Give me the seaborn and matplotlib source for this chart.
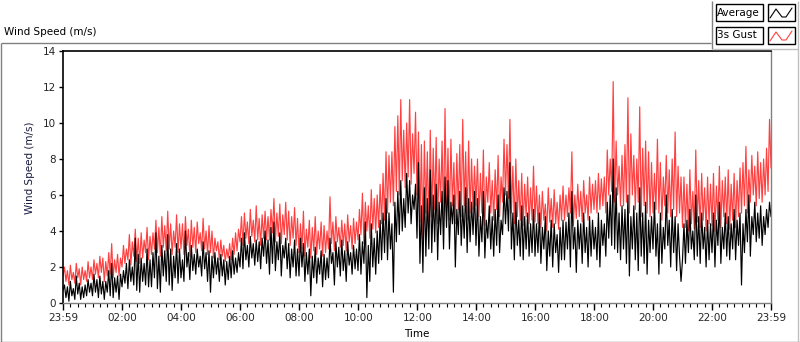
import numpy as np
import pandas as pd
import matplotlib
matplotlib.use("Agg")
import matplotlib.pyplot as plt
from matplotlib.lines import Line2D
from matplotlib.patches import Rectangle
from matplotlib.ticker import FixedLocator, MultipleLocator
import seaborn as sns

# ---- data (3-minute samples, minutes since 23:59), one row per hour ----
gust = [
    1.5, 2.0, 1.2, 1.8, 1.0, 2.1, 1.3, 1.7, 1.1, 2.2, 1.4, 1.9, 1.0, 2.0, 1.3, 1.8, 1.2, 2.3, 1.4, 2.0,
    1.3, 2.4, 1.6, 2.2, 1.4, 2.6, 1.7, 2.5, 1.2, 2.3, 1.5, 2.8, 1.6, 3.3, 1.4, 2.4, 1.7, 2.7, 1.5, 2.5,
    2.0, 3.2, 2.2, 3.0, 2.4, 3.8, 2.1, 3.4, 2.6, 4.1, 2.3, 3.6, 2.2, 3.9, 2.5, 3.5, 2.8, 4.2, 2.4, 3.7,
    2.7, 3.9, 3.0, 4.6, 2.8, 4.2, 2.6, 4.8, 3.1, 4.3, 2.9, 5.1, 3.0, 4.4, 2.7, 4.0, 3.1, 4.9, 2.8, 4.4,
    3.0, 4.4, 2.7, 4.8, 3.2, 4.1, 2.6, 4.6, 3.1, 4.2, 2.8, 4.5, 3.3, 3.9, 2.9, 4.7, 3.0, 4.0, 2.7, 4.3,
    2.8, 4.0, 2.5, 3.6, 2.9, 3.4, 2.4, 3.5, 2.6, 3.2, 2.3, 3.0, 2.5, 3.3, 2.4, 3.6, 2.7, 3.9, 2.9, 4.1,
    3.4, 4.8, 3.2, 5.0, 3.6, 4.5, 3.3, 5.2, 3.7, 4.6, 3.4, 5.4, 3.5, 4.7, 3.2, 4.9, 3.6, 5.1, 3.5, 4.8,
    3.5, 5.2, 3.9, 5.8, 3.4, 5.0, 3.7, 5.5, 3.3, 4.9, 3.8, 5.6, 3.5, 5.1, 3.2, 4.8, 3.6, 5.3, 3.2, 4.7,
    2.8, 4.4, 3.0, 5.1, 2.6, 4.1, 3.1, 4.6, 2.5, 4.2, 2.9, 4.8, 2.7, 4.0, 3.0, 4.5, 2.6, 4.3, 2.8, 4.0,
    3.0, 5.9, 3.3, 4.5, 2.9, 4.8, 3.4, 4.2, 3.1, 4.6, 3.2, 4.4, 2.9, 4.9, 3.4, 4.3, 3.0, 4.7, 3.3, 4.5,
    3.5, 5.2, 3.8, 6.1, 3.3, 5.6, 4.0, 5.4, 3.6, 6.3, 4.1, 5.8, 3.9, 6.0, 4.2, 6.6, 4.4, 7.2, 4.6, 8.4,
    5.0, 8.2, 5.6, 8.4, 5.4, 9.8, 6.2, 10.4, 6.0, 11.3, 6.8, 9.6, 6.4, 10.0, 7.0, 11.3, 6.6, 9.4, 7.2, 10.6,
    6.0, 9.5, 4.5, 8.8, 3.6, 9.0, 5.0, 8.4, 4.2, 9.6, 4.8, 8.6, 5.2, 9.2, 4.4, 8.0, 5.6, 9.0, 4.6, 10.8,
    5.0, 8.6, 4.6, 9.1, 5.4, 7.8, 4.4, 8.3, 5.2, 8.8, 4.8, 10.2, 5.4, 8.4, 4.6, 9.0, 5.0, 8.0, 5.2, 7.6,
    5.4, 8.0, 4.8, 7.2, 5.0, 8.5, 4.3, 7.0, 5.6, 7.8, 5.0, 6.8, 4.6, 7.4, 5.2, 8.2, 4.8, 7.0, 5.6, 9.1,
    6.0, 8.8, 5.8, 10.2, 5.0, 7.6, 4.4, 8.0, 4.8, 6.8, 4.6, 7.2, 4.3, 6.6, 4.8, 7.0, 4.4, 6.4, 4.6, 7.6,
    4.5, 6.5, 4.4, 6.0, 4.2, 6.2, 4.6, 5.5, 4.0, 6.4, 4.5, 5.8, 4.2, 6.3, 4.4, 5.6, 4.1, 6.0, 4.6, 6.5,
    4.6, 6.0, 4.8, 6.4, 5.0, 8.4, 4.3, 6.0, 4.7, 6.6, 4.8, 6.2, 4.5, 6.8, 5.0, 6.0, 4.6, 7.0, 5.0, 6.6,
    5.2, 6.8, 5.0, 7.2, 5.2, 6.9, 5.4, 7.0, 5.0, 8.5, 6.0, 8.0, 6.2, 12.3, 5.6, 9.0, 6.0, 7.6, 5.4, 8.2,
    5.4, 8.8, 5.6, 11.4, 5.0, 9.4, 6.0, 8.2, 5.2, 8.0, 5.6, 10.9, 4.8, 8.6, 5.4, 9.0, 5.0, 8.4, 4.8, 7.8,
    5.0, 7.2, 5.2, 9.1, 5.0, 7.8, 4.6, 7.0, 5.4, 8.2, 5.0, 7.4, 4.8, 8.0, 5.2, 9.5, 4.8, 7.6, 5.0, 7.0,
    4.2, 7.0, 4.2, 6.6, 4.0, 7.4, 4.4, 6.2, 4.1, 8.5, 4.5, 6.8, 4.2, 7.2, 4.6, 6.4, 4.0, 7.0, 4.4, 6.6,
    4.3, 7.2, 4.0, 6.5, 4.6, 7.6, 4.2, 6.8, 4.8, 7.0, 4.4, 7.4, 4.1, 6.6, 4.6, 7.2, 4.2, 6.8, 4.8, 7.5,
    5.0, 7.8, 5.4, 8.7, 5.0, 7.4, 5.6, 8.2, 6.0, 7.6, 5.4, 8.4, 5.8, 7.8, 5.6, 8.0, 6.0, 8.6, 6.2, 10.2,
    7.5,
]
average = [
    0.7, 1.0, 0.3, 0.9, 0.1, 1.2, 0.4, 0.8, 0.2, 1.5, 0.5, 1.1, 0.2, 0.9, 0.3, 1.0, 0.4, 1.3, 0.6, 1.1,
    0.4, 1.6, 0.6, 1.3, 0.3, 1.5, 0.5, 1.2, 0.2, 1.2, 0.6, 1.8, 0.4, 2.2, 0.3, 1.4, 0.6, 1.5, 0.2, 1.6,
    0.9, 1.8, 1.1, 2.2, 0.8, 2.4, 1.2, 2.0, 1.0, 3.6, 0.7, 2.7, 0.6, 2.5, 1.2, 2.2, 1.0, 3.0, 0.9, 2.4,
    0.9, 2.8, 1.4, 3.9, 0.8, 2.6, 0.6, 3.2, 1.5, 2.9, 1.2, 3.8, 1.0, 3.0, 0.7, 2.6, 1.4, 3.3, 1.1, 3.0,
    1.4, 2.4, 1.2, 4.0, 2.0, 2.8, 1.3, 3.2, 1.8, 2.7, 1.6, 3.0, 2.0, 2.6, 1.5, 3.4, 1.9, 2.8, 1.2, 2.9,
    0.6, 2.6, 1.4, 2.8, 1.6, 2.5, 1.2, 2.7, 1.5, 2.4, 1.0, 2.3, 1.3, 2.6, 1.4, 2.9, 1.6, 2.5, 1.7, 2.8,
    2.0, 3.6, 1.9, 3.9, 2.4, 3.2, 2.0, 3.7, 2.5, 3.3, 2.1, 3.5, 2.3, 3.4, 1.9, 3.6, 2.6, 4.0, 2.2, 3.5,
    1.6, 4.2, 2.2, 4.5, 1.8, 3.4, 2.4, 3.9, 1.5, 3.2, 2.5, 3.6, 1.9, 3.3, 1.4, 3.0, 2.0, 3.5, 1.5, 3.0,
    1.5, 3.6, 2.0, 3.3, 1.2, 2.8, 1.6, 3.0, 0.4, 2.6, 1.4, 3.1, 1.1, 2.5, 1.6, 2.9, 0.9, 2.7, 1.3, 2.5,
    1.4, 3.6, 2.2, 2.8, 1.0, 3.4, 2.0, 3.1, 1.5, 3.5, 1.8, 2.9, 1.2, 3.4, 2.1, 2.8, 1.6, 3.2, 1.9, 3.0,
    1.8, 3.8, 1.6, 3.4, 2.2, 4.5, 0.3, 3.2, 1.2, 4.4, 2.0, 3.6, 1.6, 4.0, 2.2, 4.6, 2.4, 5.0, 2.8, 5.8,
    2.4, 5.0, 3.0, 4.4, 0.6, 5.6, 3.4, 6.2, 3.8, 6.8, 4.0, 5.8, 4.2, 7.2, 5.0, 6.8, 4.4, 6.0, 5.2, 6.6,
    3.6, 7.8, 2.2, 5.4, 1.7, 6.4, 2.6, 5.8, 3.0, 7.4, 2.8, 6.0, 3.4, 6.6, 2.4, 5.6, 3.8, 6.2, 3.0, 7.0,
    4.2, 6.8, 3.0, 5.6, 4.4, 6.0, 2.0, 5.2, 3.8, 6.2, 3.2, 5.4, 3.6, 6.4, 2.8, 5.8, 3.4, 5.6, 3.8, 6.2,
    3.2, 5.8, 2.6, 4.8, 3.4, 6.2, 2.5, 4.6, 3.6, 5.4, 3.0, 4.8, 2.6, 5.2, 3.2, 6.0, 2.8, 4.6, 3.8, 6.4,
    4.4, 6.2, 4.0, 7.8, 3.0, 5.0, 2.4, 5.6, 3.2, 4.6, 2.6, 5.4, 2.4, 4.8, 3.0, 5.0, 2.6, 4.4, 2.8, 5.2,
    2.6, 4.4, 2.8, 5.0, 2.2, 4.2, 3.0, 4.8, 1.8, 4.0, 2.6, 4.6, 2.0, 4.4, 2.8, 3.8, 1.7, 4.2, 2.4, 4.6,
    2.4, 4.5, 3.0, 5.0, 2.0, 6.2, 3.0, 4.2, 1.7, 4.6, 3.0, 4.4, 2.2, 5.0, 2.8, 4.2, 2.0, 4.8, 2.6, 4.6,
    3.0, 4.2, 2.4, 5.0, 2.0, 4.6, 3.2, 4.4, 2.6, 5.6, 3.6, 6.0, 3.2, 8.0, 3.0, 6.4, 2.8, 5.0, 2.4, 5.4,
    3.0, 5.2, 2.2, 6.0, 1.5, 4.8, 3.0, 5.4, 2.4, 5.0, 1.8, 6.4, 2.6, 5.0, 2.2, 5.6, 1.6, 4.6, 2.8, 4.8,
    3.0, 5.6, 2.6, 4.4, 1.6, 5.0, 2.2, 4.2, 3.0, 6.0, 3.2, 4.6, 2.0, 5.2, 2.8, 4.8, 1.8, 4.4, 2.6, 1.2,
    2.4, 4.4, 2.2, 4.6, 2.8, 5.2, 3.0, 4.0, 2.4, 6.0, 2.6, 4.8, 2.2, 5.0, 3.0, 4.2, 2.0, 4.6, 2.4, 4.4,
    2.8, 5.0, 2.0, 4.6, 3.2, 5.6, 2.2, 4.2, 3.0, 5.0, 2.6, 4.8, 2.4, 4.4, 3.0, 5.2, 2.4, 4.6, 3.2, 5.0,
    1.0, 4.4, 2.8, 5.2, 3.4, 6.0, 2.6, 4.8, 3.8, 5.6, 3.4, 5.0, 3.6, 5.4, 3.2, 4.8, 3.8, 5.2, 4.2, 5.6,
    4.8,
]
step_minutes = 3
tick_positions = [0, 121, 241, 361, 481, 601, 721, 841, 961, 1081, 1201, 1321, 1440]
tick_labels = ["23:59", "02:00", "04:00", "06:00", "08:00", "10:00", "12:00",
               "14:00", "16:00", "18:00", "20:00", "22:00", "23:59"]
y_ticks = [0, 2, 4, 6, 8, 10, 12, 14]

minutes = np.arange(len(gust)) * step_minutes
df = pd.DataFrame({"minute": minutes, "3s Gust": gust, "Average": average})

sns.set_style("white")
plt.rcParams["font.family"] = ["DejaVu Sans"]

W, H = 800, 342
fig = plt.figure(figsize=(W / 100, H / 100), dpi=100)
fx = lambda px: px / W
fy = lambda py: 1 - py / H

ax = fig.add_axes([fx(63), fy(303), fx(771) - fx(63), fy(51) - fy(303)])
sns.lineplot(data=df, x="minute", y="3s Gust", ax=ax, color="#ff4040", lw=0.85)
sns.lineplot(data=df, x="minute", y="Average", ax=ax, color="black", lw=0.85)

ax.set_xlim(0, 1440)
ax.set_ylim(0, 14)
ax.xaxis.set_major_locator(FixedLocator(tick_positions))
ax.set_xticklabels(tick_labels)
ax.xaxis.set_minor_locator(MultipleLocator(15))
ax.set_yticks(y_ticks)
ax.set_yticklabels([str(v) for v in y_ticks])
ax.tick_params(axis="x", which="major", length=5, width=1, direction="out",
               bottom=True, labelsize=7.5, pad=2, color="black")
ax.tick_params(axis="x", which="minor", length=3, width=0.8, direction="out",
               bottom=True, color="black")
ax.tick_params(axis="y", which="major", length=3, width=1, direction="out",
               left=True, labelsize=7.5, pad=2, color="black")
for s in ["left", "top"]:
    ax.spines[s].set_color("black")
    ax.spines[s].set_linewidth(1.2)
for s in ["right", "bottom"]:
    ax.spines[s].set_color("#808080")
    ax.spines[s].set_linewidth(1.0)
ax.set_xlabel("")
ax.set_ylabel("")
ax.grid(False)

# axis labels
fig.text(fx(30), fy(168), "Wind Speed (m/s)", rotation=90, ha="center", va="center",
         fontsize=7.5, color="#1a1a40")
fig.text(fx(417), fy(334), "Time", ha="center", va="center", fontsize=7.5, color="black")
fig.text(fx(4), fy(32), "Wind Speed (m/s)", ha="left", va="center", fontsize=7.5, color="black")

# outer frame
gray = "#808080"
def fline(xs, ys, color=gray, lw=1.0):
    fig.add_artist(Line2D([fx(v) for v in xs], [fy(v) for v in ys], color=color, lw=lw,
                          transform=fig.transFigure, solid_capstyle="butt"))

fline([0.5, 711], [42.5, 42.5])
fline([0.5, 0.5], [42.5, 341.5])
fline([0.5, 799.5], [341.5, 341.5])
fline([711.5, 711.5], [1, 49])
fline([711.5, 797.5], [49, 49], color="#c0c0c0")
fline([797.5, 797.5], [1, 341.5], color="#c0c0c0")

# legend
legend_items = [("Average", "black", 4), ("3s Gust", "#ff4040", 27)]
for name, col, top in legend_items:
    fig.add_artist(Rectangle((fx(715.5), fy(top + 17)), fx(762.5) - fx(715.5), fy(top) - fy(top + 17),
                             transform=fig.transFigure, fill=False, ec="black", lw=1.0))
    fig.text(fx(717), fy(top + 8.5), name, ha="left", va="center", fontsize=7.5, color="black")
    fig.add_artist(Rectangle((fx(767.5), fy(top + 17)), fx(795) - fx(767.5), fy(top) - fy(top + 17),
                             transform=fig.transFigure, fill=False, ec="black", lw=1.0))
    fig.add_artist(Line2D([fx(770), fx(776), fx(782), fx(786), fx(792)],
                          [fy(top + 14), fy(top + 5), fy(top + 13), fy(top + 13), fy(top + 4)],
                          transform=fig.transFigure, color=col, lw=0.8))

fig.savefig("out.png", dpi=100)
